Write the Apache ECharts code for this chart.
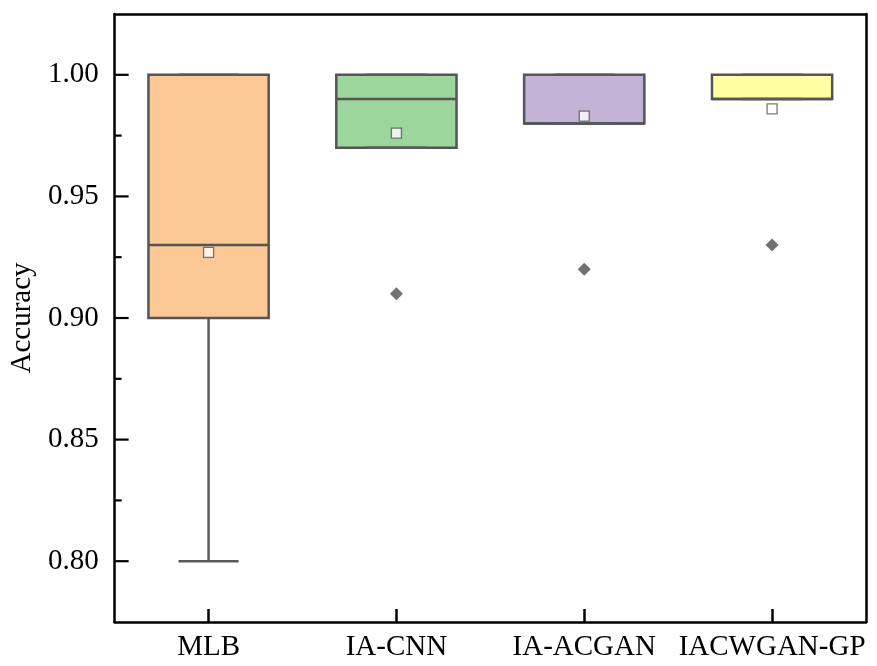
<!DOCTYPE html>
<html>
<head>
<meta charset="utf-8">
<script src="https://cdn.jsdelivr.net/npm/echarts@6/dist/echarts.min.js"></script>
<style>html,body{margin:0;padding:0;background:#fff;}#c{width:877px;height:666px;}</style>
</head>
<body>
<div id="c"></div>
<script>
const categories = ['MLB', 'IA-CNN', 'IA-ACGAN', 'IACWGAN-GP'];
const whiskerLow = [0.80, 0.97, 0.98, 0.99];
const q1 = [0.90, 0.97, 0.98, 0.99];
const median = [0.93, 0.99, 0.98, 0.99];
const q3 = [1.00, 1.00, 1.00, 1.00];
const whiskerHigh = [1.00, 1.00, 1.00, 1.00];
const means = [0.927, 0.976, 0.983, 0.986];
const outlierCats = ['IA-CNN', 'IA-ACGAN', 'IACWGAN-GP'];
const outlierVals = [0.91, 0.92, 0.93];
const majorTickVals = [0.80, 0.85, 0.90, 0.95, 1.00];
const minorTickVals = [0.825, 0.875, 0.925, 0.975];
const boxColors = ['#FCC996', '#9DD69D', '#C3B3D7', '#FFFFA2'];

const FONT = 'Liberation Serif';
const boxData = categories.map((c, i) => [i, whiskerLow[i], q1[i], median[i], q3[i], whiskerHigh[i]]);
const tickData = majorTickVals.map(v => [0, v, 1]).concat(minorTickVals.map(v => [0, v, 0]));

function renderBox(params, api) {
  const idx = api.value(0);
  const lo = api.coord([idx, api.value(1)]);
  const b1 = api.coord([idx, api.value(2)]);
  const md = api.coord([idx, api.value(3)]);
  const b3 = api.coord([idx, api.value(4)]);
  const hi = api.coord([idx, api.value(5)]);
  const bw = api.size([1, 0])[0] * 0.64;
  const half = bw / 2;
  const cap = bw / 4;
  const x = lo[0];
  const lineStyle = {stroke: '#5a5a5a', lineWidth: 2.5};
  const children = [
    {type: 'line', shape: {x1: x, y1: b1[1], x2: x, y2: lo[1]}, style: lineStyle},
    {type: 'line', shape: {x1: x, y1: b3[1], x2: x, y2: hi[1]}, style: lineStyle},
    {type: 'rect', shape: {x: x - half, y: b3[1], width: bw, height: b1[1] - b3[1]},
      style: {fill: boxColors[idx], stroke: '#555555', lineWidth: 2.5}},
    {type: 'line', shape: {x1: x - half, y1: md[1], x2: x + half, y2: md[1]}, style: {stroke: '#555555', lineWidth: 2.5}},
    {type: 'line', shape: {x1: x - cap, y1: lo[1], x2: x + cap, y2: lo[1]}, style: lineStyle},
    {type: 'line', shape: {x1: x - cap, y1: hi[1], x2: x + cap, y2: hi[1]}, style: lineStyle}
  ];
  return {type: 'group', children: children};
}

function renderTick(params, api) {
  const p = api.coord([0, api.value(1)]);
  const left = p[0] - api.size([1, 0])[0] / 2;
  const len = api.value(2) ? 14 : 7;
  return {type: 'line', shape: {x1: left, y1: p[1], x2: left + len, y2: p[1]},
    style: {stroke: '#000', lineWidth: 2.2}};
}

const chart = echarts.init(document.getElementById('c'), null, {renderer: 'canvas'});
chart.setOption({
  animation: false,
  grid: {left: 114, right: 11, top: 14, bottom: 44},
  xAxis: [{
    type: 'category',
    data: categories,
    boundaryGap: true,
    position: 'bottom',
    axisLine: {show: true, lineStyle: {color: '#000', width: 2.5}},
    axisTick: {show: true, inside: true, alignWithLabel: true, length: 13, lineStyle: {color: '#000', width: 2.5}},
    axisLabel: {fontFamily: FONT, fontSize: 29, color: '#000', margin: 11, interval: 0},
    splitLine: {show: false}
  }, {
    type: 'category',
    data: categories,
    position: 'top',
    axisLine: {show: true, lineStyle: {color: '#000', width: 2.5}},
    axisTick: {show: false},
    axisLabel: {show: false},
    splitLine: {show: false}
  }],
  yAxis: [{
    type: 'value',
    min: 0.775,
    max: 1.025,
    splitNumber: 5,
    position: 'left',
    name: 'Accuracy',
    nameLocation: 'middle',
    nameGap: 71,
    nameTextStyle: {fontFamily: FONT, fontSize: 29, color: '#000'},
    axisLine: {show: true, lineStyle: {color: '#000', width: 2.5}},
    axisTick: {show: false},
    axisLabel: {fontFamily: FONT, fontSize: 29, color: '#000', margin: 16, showMinLabel: false, showMaxLabel: false,
      formatter: v => v.toFixed(2)},
    splitLine: {show: false}
  }, {
    type: 'value',
    min: 0.775,
    max: 1.025,
    position: 'right',
    axisLine: {show: true, lineStyle: {color: '#000', width: 2.5}},
    axisTick: {show: false},
    axisLabel: {show: false},
    splitLine: {show: false}
  }],
  series: [{
    type: 'custom',
    renderItem: renderBox,
    data: boxData,
    encode: {x: 0, y: [1, 2, 3, 4, 5]},
    z: 2
  }, {
    type: 'custom',
    renderItem: renderTick,
    data: tickData,
    encode: {x: 0, y: 1},
    clip: false,
    silent: true,
    z: 6
  }, {
    type: 'scatter',
    data: categories.map((c, i) => [c, means[i]]),
    symbol: 'rect',
    symbolSize: 10,
    itemStyle: {color: '#fff', borderColor: '#555', borderWidth: 1.3},
    z: 5
  }, {
    type: 'scatter',
    data: outlierCats.map((c, i) => [c, outlierVals[i]]),
    symbol: 'diamond',
    symbolSize: 13,
    itemStyle: {color: '#4d4d4d'},
    z: 5
  }]
});
</script>
</body>
</html>
